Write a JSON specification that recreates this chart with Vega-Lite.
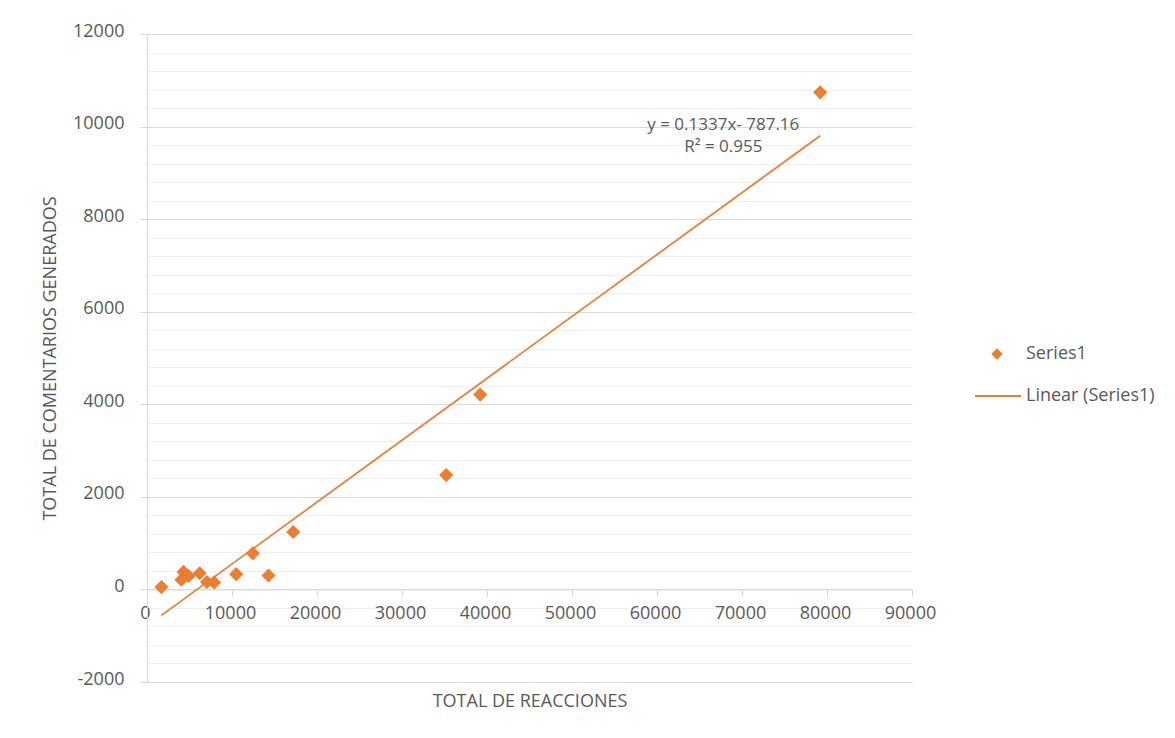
{
  "$schema": "https://vega.github.io/schema/vega-lite/v6.json",
  "autosize": {"type": "none"},
  "padding": {"left": 147, "top": 34, "right": 263, "bottom": 56},
  "width": 765,
  "height": 648,
  "background": "#ffffff",
  "config": {
    "view": {"stroke": null},
    "font": "Open Sans",
    "axis": {
      "labelFont": "Open Sans",
      "labelFontSize": 18,
      "labelColor": "#595959",
      "titleFont": "Open Sans",
      "titleFontSize": 18,
      "titleFontWeight": "normal",
      "titleColor": "#595959",
      "domainColor": "#d9d9d9",
      "tickColor": "#d9d9d9",
      "labelOverlap": false
    },
    "legend": {
      "labelFont": "Open Sans",
      "labelFontSize": 18,
      "labelColor": "#595959",
      "rowPadding": 0
    }
  },
  "datasets": {
    "points": [
      {"reacciones": 1700, "comentarios": 50, "series": "Series1"},
      {"reacciones": 4050, "comentarios": 210, "series": "Series1"},
      {"reacciones": 4300, "comentarios": 380, "series": "Series1"},
      {"reacciones": 4900, "comentarios": 290, "series": "Series1"},
      {"reacciones": 6200, "comentarios": 350, "series": "Series1"},
      {"reacciones": 7050, "comentarios": 160, "series": "Series1"},
      {"reacciones": 7900, "comentarios": 150, "series": "Series1"},
      {"reacciones": 10500, "comentarios": 330, "series": "Series1"},
      {"reacciones": 12450, "comentarios": 780, "series": "Series1"},
      {"reacciones": 14300, "comentarios": 300, "series": "Series1"},
      {"reacciones": 17200, "comentarios": 1240, "series": "Series1"},
      {"reacciones": 35200, "comentarios": 2470, "series": "Series1"},
      {"reacciones": 39200, "comentarios": 4210, "series": "Series1"},
      {"reacciones": 79200, "comentarios": 10740, "series": "Series1"}
    ],
    "trend": [
      {"reacciones": 1700, "ajuste": -559.87, "serie": "Linear (Series1)"},
      {"reacciones": 79200, "ajuste": 9801.88, "serie": "Linear (Series1)"}
    ],
    "ecuacion": [
      {"reacciones": 67800, "comentarios": 9917, "texto": ["y = 0.1337x- 787.16", "R² = 0.955"]}
    ]
  },
  "layer": [
    {
      "data": {"name": "trend"},
      "mark": {"type": "line", "strokeWidth": 1.75},
      "encoding": {
        "x": {
          "field": "reacciones",
          "type": "quantitative",
          "scale": {"domain": [0, 90000], "nice": false, "zero": false},
          "axis": {
            "title": "TOTAL DE REACCIONES",
            "values": [0, 10000, 20000, 30000, 40000, 50000, 60000, 70000, 80000, 90000],
            "tickCount": 20,
            "format": "d",
            "grid": false,
            "offset": -92.57,
            "tickSize": 7,
            "labelPadding": 8,
            "labelFlush": false,
            "labelOffset": -2,
            "titleBaseline": "alphabetic",
            "titleY": 117
          }
        },
        "y": {
          "field": "ajuste",
          "type": "quantitative",
          "scale": {"domain": [-2000, 12000], "nice": false, "zero": false},
          "axis": {
            "title": "TOTAL DE COMENTARIOS GENERADOS",
            "values": [-2000, -1600, -1200, -800, -400, 0, 400, 800, 1200, 1600, 2000, 2400, 2800, 3200, 3600, 4000, 4400, 4800, 5200, 5600, 6000, 6400, 6800, 7200, 7600, 8000, 8400, 8800, 9200, 9600, 10000, 10400, 10800, 11200, 11600, 12000],
            "tickCount": 60,
            "format": "d",
            "labelExpr": "datum.value % 2000 === 0 ? replace(datum.label, '−', '-') : ''",
            "grid": true,
            "gridColor": {"condition": {"test": "datum.value % 2000 === 0", "value": "#d9d9d9"}, "value": "#efefef"},
            "gridWidth": 1.2,
            "tickOpacity": {"condition": {"test": "datum.value % 2000 === 0", "value": 1}, "value": 0},
            "tickSize": 7,
            "labelPadding": 16,
            "labelOffset": -3,
            "labelFlush": false,
            "titleAngle": -90,
            "titleAlign": "center",
            "titleBaseline": "middle",
            "titleX": -97,
            "titleY": 324
          }
        },
        "color": {
          "field": "serie",
          "type": "nominal",
          "scale": {"domain": ["Linear (Series1)"], "range": ["#ED7D31"]},
          "legend": {
            "title": null,
            "orient": "none",
            "legendX": 827,
            "legendY": 338,
            "symbolType": "stroke",
            "symbolSize": 2116,
            "symbolStrokeWidth": 2,
            "labelOffset": 4
          }
        }
      }
    },
    {
      "data": {"name": "points"},
      "mark": {"type": "point", "filled": true, "opacity": 1, "color": "#ED7D31", "size": 200},
      "encoding": {
        "x": {"field": "reacciones", "type": "quantitative"},
        "y": {"field": "comentarios", "type": "quantitative"},
        "shape": {
          "field": "series",
          "type": "nominal",
          "scale": {"domain": ["Series1"], "range": ["diamond"]},
          "legend": {
            "title": null,
            "orient": "none",
            "legendX": 841,
            "legendY": 311,
            "symbolSize": 130,
            "symbolFillColor": "#ED7D31",
            "labelOffset": 20
          }
        }
      }
    },
    {
      "data": {"name": "ecuacion"},
      "mark": {"type": "text", "font": "Open Sans", "fontSize": 17, "color": "#595959", "align": "center", "baseline": "alphabetic", "lineHeight": 22},
      "encoding": {
        "x": {"field": "reacciones", "type": "quantitative"},
        "y": {"field": "comentarios", "type": "quantitative"},
        "text": {"field": "texto"}
      }
    }
  ]
}
